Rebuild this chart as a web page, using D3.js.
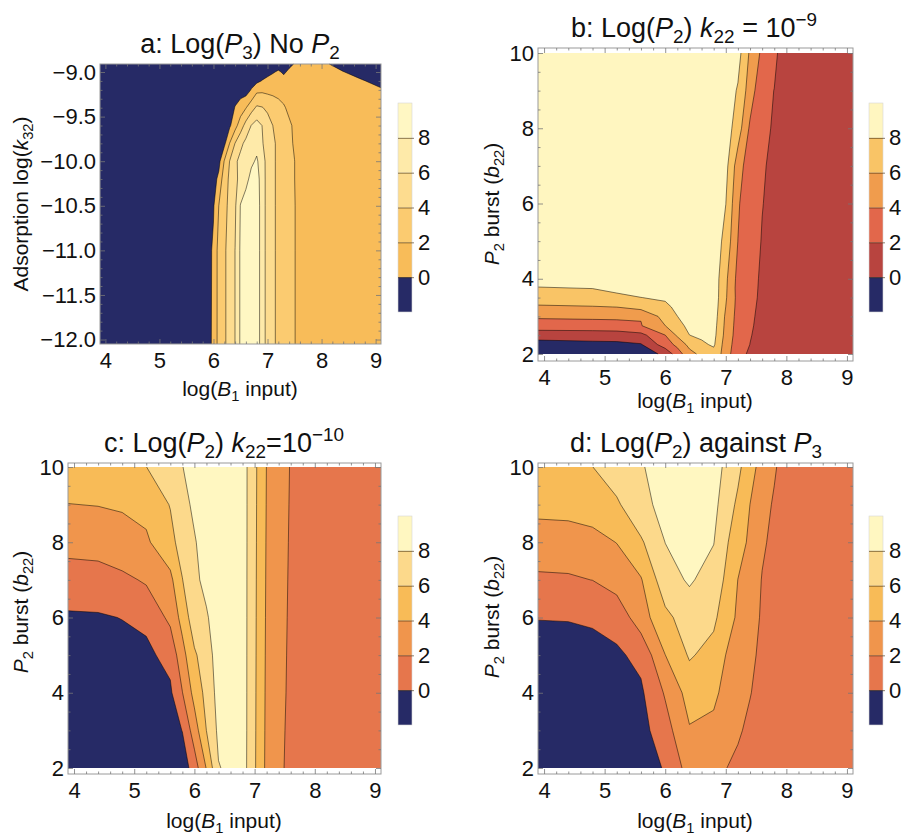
<!DOCTYPE html>
<html>
<head>
<meta charset="utf-8">
<script src="https://cdn.jsdelivr.net/npm/d3@7"></script>
<style>
  body { margin: 0; background: #fff; }
</style>
</head>
<body>
<div id="chart"></div>
<script>
const FONT = '"Liberation Sans", Arial, sans-serif';

// contour levels and tick labels
const levels = [0, 2, 4, 6, 8];
const legendTicks = [0, 2, 4, 6, 8];
const xTicks = [4, 5, 6, 7, 8, 9];
const aYTicks = [-12, -11.5, -11, -10.5, -10, -9.5, -9];
const bYTicks = [2, 4, 6, 8, 10];

// band colours: below 0, 0-2, 2-4, 4-6, 6-8, above 8
const navy = '#262a66';
const aColors = [navy, '#f8bc59', '#fbcb70', '#fddc8f', '#feeaa9', '#fff7c3'];
const bColors = [navy, '#b8443f', '#e2674b', '#f09c4d', '#f9c466', '#fff6c0'];
const cColors = [navy, '#e6764c', '#f0954c', '#f8bb57', '#fcd98b', '#fff7c1'];

// panel a: log(B1) nodes, log(k32) nodes, values row by row (bottom row first)
const aX = [3.9, 5.9, 6.0, 6.1, 6.2, 6.3, 6.4, 6.5, 6.6, 6.7, 6.8, 6.9, 7.0, 7.1, 7.2, 7.3, 7.4, 7.5, 7.6, 7.8, 8.1, 8.4, 8.7, 9.1];
const aY = [-12.05, -11.0, -10.5, -10.2, -10.0, -9.8, -9.6, -9.4, -9.2, -9.1, -9.0, -8.91];
const aZ = [
  [-1, -0.6, 0.4, 2.8, 3.6, 5.0, 6.02, 8.3, 8.8, 9.0, 8.8, 7.3, 5.0, 4.4, 3.5, 3.0, 2.6, 2.1, 1.2, 1.0, 1.0, 1.0, 1.0, 1.0],
  [-1, -0.7, 0.35, 2.8, 3.6, 5.0, 6.02, 8.3, 8.8, 9.0, 8.8, 7.3, 5.0, 4.4, 3.5, 3.0, 2.6, 2.1, 1.2, 1.0, 1.0, 1.0, 1.0, 1.0],
  [-1, -1, -0.2, 2.05, 3.3, 4.6, 5.7, 8.1, 8.8, 9.0, 8.8, 7.3, 5.0, 4.4, 3.5, 3.0, 2.6, 2.1, 1.2, 1.0, 1.0, 1.0, 1.0, 1.0],
  [-1, -1, -0.8, 0.5, 3.2, 4.3, 5.5, 6.6, 7.5, 8.5, 8.6, 7.3, 5.0, 4.4, 3.5, 3.0, 2.6, 2.02, 1.2, 1.0, 1.0, 1.0, 1.0, 1.0],
  [-1, -1, -1, -0.6, 2.1, 4.05, 5.6, 6.6, 7.2, 7.7, 8.2, 7.2, 5.0, 4.4, 3.5, 3.0, 2.6, 2.02, 1.2, 1.0, 1.0, 1.0, 1.0, 1.0],
  [-1, -1, -1, -1, -0.5, 2.05, 4.05, 5.5, 6.5, 7.1, 7.5, 6.2, 5.0, 4.4, 3.5, 3.0, 2.4, 1.8, 1.2, 1.0, 1.0, 1.0, 1.0, 1.0],
  [-1, -1, -1, -1, -1, -0.3, 1.3, 3.0, 4.7, 6.05, 6.8, 5.98, 4.9, 3.98, 3.3, 2.8, 2.3, 1.7, 1.2, 1.0, 1.0, 1.0, 1.0, 1.0],
  [-1, -1, -1, -1, -1, -1, 0.1, 1.0, 1.9, 3.2, 4.3, 4.1, 3.6, 3.2, 2.7, 2.2, 1.6, 1.3, 1.1, 1.0, 1.0, 1.0, 1.0, 1.0],
  [-1, -1, -1, -1, -1, -1, -1, -1, -1, 0.1, 1.5, 1.6, 1.5, 1.4, 1.3, 1.2, 1.1, 1.0, 1.0, 1.0, 1.0, 1.0, 0.8, 0.15],
  [-1, -1, -1, -1, -1, -1, -1, -1, -1, -0.8, -0.5, 0.1, 0.8, 1.0, 1.0, 0.7, 1.0, 1.0, 1.0, 1.0, 1.0, 0.9, 0.2, -0.5],
  [-1, -1, -1, -1, -1, -1, -1, -1, -1, -1, -1, -1, -0.9, -0.2, 0.3, -0.3, 0.4, 0.8, 0.9, 0.9, 0.7, 0.05, -0.5, -1],
  [-1, -1, -1, -1, -1, -1, -1, -1, -1, -1, -1, -1, -1, -1, -1, -1, -0.5, 0.1, 0.5, 0.6, 0.1, -0.6, -1, -1]
];

// panel b
const bX = [3.9, 4.8, 5.2, 5.6, 6.0, 6.2, 6.4, 6.6, 6.8, 7.0, 7.2, 7.4, 7.6, 7.8, 8.0, 9.1];
const bY = [2, 2.25, 2.5, 2.75, 3, 3.25, 3.5, 3.75, 4, 5, 6, 7, 8, 9, 10];
const bZ = [
  [-1.5, -1.5, -1.4, -1.2, 0.5, 3.0, 5.3, 6.5, 7.2, 5.2, 2.2, 1.91, 1.5, 1.3, 1.2, 1.2],
  [-0.8, -0.7, -0.6, -0.15, 3.0, 4.5, 6.6, 7.6, 8.3, 5.01, 3.0, 1.98, 1.55, 1.35, 1.2, 1.2],
  [0.87, 1.24, 1.275, 1.4, 3.98, 6.3, 7.98, 8.4, 8.6, 5.35, 3.1, 2.1, 1.43, 1.3, 1.2, 1.2],
  [3.04, 2.82, 2.92, 3.9, 5.98, 7.2, 8.6, 8.8, 8.8, 5.51, 3.19, 2.2, 1.53, 1.35, 1.2, 1.2],
  [4.3, 4.55, 4.61, 4.11, 6.8, 7.98, 8.9, 9.0, 9.0, 5.67, 3.28, 2.3, 1.55, 1.4, 1.2, 1.2],
  [5.72, 5.9, 6.02, 6.74, 7.5, 8.5, 9.1, 9.1, 9.1, 5.98, 3.34, 2.4, 1.6, 1.4, 1.2, 1.2],
  [7.12, 7.15, 7.3, 7.98, 8.33, 8.8, 9.2, 9.2, 9.2, 6.2, 3.4, 2.45, 1.7, 1.45, 1.2, 1.2],
  [7.9, 8.04, 8.76, 8.9, 8.8, 9.0, 9.2, 9.2, 9.2, 6.3, 3.3, 2.5, 1.73, 1.45, 1.2, 1.2],
  [8.73, 8.6, 9.0, 9.1, 9.0, 9.1, 9.2, 9.2, 9.2, 6.4, 3.4, 2.55, 1.76, 1.5, 1.2, 1.2],
  [9.2, 9.2, 9.2, 9.3, 9.2, 9.3, 9.3, 9.3, 9.3, 7.3, 3.98, 2.8, 1.91, 1.5, 1.2, 1.2],
  [9.3, 9.3, 9.3, 9.3, 9.3, 9.3, 9.3, 9.3, 9.3, 8.02, 4.3, 2.3, 2.05, 1.55, 1.2, 1.2],
  [9.3, 9.3, 9.3, 9.3, 9.3, 9.3, 9.3, 9.3, 9.3, 8.6, 5.0, 2.78, 2.2, 1.6, 1.2, 1.2],
  [9.3, 9.3, 9.3, 9.3, 9.3, 9.3, 9.3, 9.3, 9.3, 9.0, 7.0, 3.67, 2.6, 1.75, 1.2, 1.2],
  [9.3, 9.3, 9.3, 9.3, 9.3, 9.3, 9.3, 9.3, 9.3, 9.2, 7.8, 5.03, 2.45, 1.98, 1.2, 1.2],
  [9.3, 9.3, 9.3, 9.3, 9.3, 9.3, 9.3, 9.3, 9.3, 9.3, 8.77, 5.69, 3.58, 2.3, 1.2, 1.2]
];

// panel c
const cX = [3.9, 4.4, 4.8, 5.2, 5.6, 5.8, 6.0, 6.2, 6.4, 6.8, 7.2, 7.6, 8.0, 9.1];
const cY = [2, 3, 4, 5, 6, 7, 8, 9, 10];
const cZ = [
  [-2.5, -2.2, -2.5, -2.2, -1.6, -1.2, 1.0, 4.1, 7.9, 8.9, 3.55, 1.41, 1.5, 1.5],
  [-2, -1.8, -2.2, -1.8, -1.0, 0.05, 3.0, 6.02, 8.4, 8.93, 3.6, 1.5, 1.5, 1.5],
  [-1.5, -1.4, -1.8, -1.2, -0.3, 1.95, 4.67, 6.6, 8.7, 8.93, 3.65, 1.6, 1.5, 1.5],
  [-1, -0.9, -0.7, -0.4, 0.58, 3.3, 5.7, 7.1, 8.9, 8.93, 3.7, 1.65, 1.5, 1.5],
  [-0.26, -0.2, 0.05, 0.4, 2.47, 4.7, 7.2, 7.8, 9.0, 8.93, 3.75, 1.7, 1.5, 1.5],
  [1.2, 1.3, 1.5, 2.26, 3.5, 5.95, 7.6, 8.5, 9.1, 8.93, 3.8, 1.75, 1.5, 1.5],
  [2.6, 2.7, 3.58, 3.7, 5.42, 6.8, 7.85, 8.8, 9.2, 8.93, 3.85, 1.8, 1.5, 1.5],
  [3.96, 4.06, 4.11, 4.58, 6.09, 7.4, 8.35, 9.0, 9.2, 8.93, 3.9, 1.85, 1.5, 1.5],
  [5.3, 5.4, 5.3, 5.98, 7.3, 7.95, 8.8, 9.1, 9.2, 8.93, 3.95, 1.9, 1.5, 1.5]
];

// panel d
const dX = [3.9, 4.4, 4.8, 5.2, 5.6, 6.0, 6.4, 6.8, 7.0, 7.2, 7.4, 7.6, 7.8, 8.0, 9.1];
const dY = [2, 3, 4, 5, 6, 7, 8, 9, 10];
const dZ = [
  [-2.5, -2.2, -2.3, -2, -1.2, 0.2, 2.8, 2.9, 2.05, 1.5, 1.0, 0.8, 0.8, 1.0, 1.0],
  [-2, -1.8, -1.8, -1.5, -0.7, 1.2, 3.85, 3.5, 2.7, 2.3, 1.5, 1.0, 0.9, 1.0, 1.0],
  [-1.5, -1.3, -1.2, -0.9, -0.3, 2.2, 4.79, 4.43, 3.4, 2.9, 2.1, 1.2, 1.0, 1.0, 1.0],
  [-0.8, -0.7, -0.6, -0.3, 0.49, 3.98, 6.21, 5.3, 3.98, 3.3, 2.5, 1.5, 1.1, 1.0, 1.0],
  [0.06, 0.087, 0.245, 0.73, 3.09, 5.5, 7.0, 6.41, 4.9, 3.7, 2.9, 1.75, 1.2, 1.0, 1.0],
  [1.6, 1.8, 2.02, 2.85, 3.85, 7.22, 8.22, 7.2, 5.7, 3.98, 3.3, 1.9, 1.35, 1.0, 1.0],
  [3.42, 2.98, 3.4, 4.04, 5.73, 8.02, 8.8, 8.06, 6.3, 4.8, 3.65, 2.3, 1.5, 1.0, 1.0],
  [4.36, 4.77, 4.9, 5.7, 7.53, 8.5, 9.1, 8.5, 7.1, 5.6, 3.99, 2.8, 1.75, 1.0, 1.0],
  [5.2, 5.3, 5.98, 7.13, 7.85, 8.8, 9.3, 8.7, 7.7, 6.5, 4.7, 3.3, 2.25, 1.0, 1.0]
];

// text pieces
const xLabel = [{t: 'log('}, {t: 'B', i: 1}, {t: '1', sub: 1}, {t: ' input)'}];
const burstLabel = [{t: 'P', i: 1}, {t: '2', sub: 1}, {t: ' burst ('}, {t: 'b', i: 1}, {t: '22', sub: 1}, {t: ')'}];

const svg = d3.select('#chart')
    .append('svg')
    .attr('width', 906)
    .attr('height', 835)
    .style('font-family', FONT);

svg.append('rect').attr('width', 906).attr('height', 835).attr('fill', '#fff');

// write text with italics / sub / superscripts
function addRich(text, parts, fs) {
    let shift = 0;
    parts.forEach(p => {
        const target = p.sub ? 0.24 * fs : p.sup ? -0.42 * fs : 0;
        const ts = text.append('tspan').text(p.t).attr('dy', target - shift);
        shift = target;
        if (p.sub || p.sup) ts.attr('font-size', fs * 0.7);
        if (p.i) ts.attr('font-style', 'italic');
    });
}

// map a contour grid coordinate onto the (non uniform) node positions
function interp(nodes, c) {
    const n = nodes.length;
    const u = Math.max(0, Math.min(n - 1, c - 0.5));
    const i = Math.min(n - 2, Math.floor(u));
    return nodes[i] + (nodes[i + 1] - nodes[i]) * (u - i);
}

const fmt = q => q[0].toFixed(2) + ',' + q[1].toFixed(2);

function styleAxis(sel, fs) {
    sel.select('.domain').remove();
    sel.attr('font-family', FONT).attr('font-size', fs);
    sel.selectAll('.tick line').attr('stroke', '#777').attr('stroke-width', 0.8);
    sel.selectAll('.tick text').attr('fill', '#111');
}

function drawPanel(p) {
    const g = svg.append('g');
    const nx = p.xs.length, ny = p.ys.length;
    const x = d3.scaleLinear().domain([p.xs[0], p.xs[nx - 1]]).range(p.xr);
    const y = d3.scaleLinear().domain(p.yd).range(p.yr);
    const [fl, ft, fr, fb] = p.frame;

    const x0 = x(p.xs[0]), x1 = x(p.xs[nx - 1]);
    const y0 = y(p.ys[0]), y1 = y(p.ys[ny - 1]);
    const pt = c => [x(interp(p.xs, c[0])), y(interp(p.ys, c[1]))];
    const e = 0.01;
    const onEdge = (a, b) =>
        (Math.abs(a[0] - x0) < e && Math.abs(b[0] - x0) < e) ||
        (Math.abs(a[0] - x1) < e && Math.abs(b[0] - x1) < e) ||
        (Math.abs(a[1] - y0) < e && Math.abs(b[1] - y0) < e) ||
        (Math.abs(a[1] - y1) < e && Math.abs(b[1] - y1) < e);

    const values = p.zs.flat();
    const gen = d3.contours().size([nx, ny]);

    g.append('rect')
        .attr('x', x0).attr('y', y1)
        .attr('width', x1 - x0).attr('height', y0 - y1)
        .attr('fill', p.colors[0]);

    let lineD = '';
    levels.forEach((t, k) => {
        const mp = gen.contour(values, t);
        let d = '';
        mp.coordinates.forEach(poly => poly.forEach(ring => {
            const pts = ring.map(pt);
            d += 'M' + pts.map(fmt).join('L') + 'Z';
            let down = false;
            for (let i = 1; i < pts.length; i++) {
                const a = pts[i - 1], b = pts[i];
                if (onEdge(a, b)) { down = false; continue; }
                if (!down) lineD += 'M' + fmt(a);
                lineD += 'L' + fmt(b);
                down = true;
            }
        }));
        g.append('path')
            .attr('d', d)
            .attr('fill', p.colors[k + 1])
            .attr('fill-rule', 'evenodd');
    });

    g.append('path')
        .attr('d', lineD)
        .attr('fill', 'none')
        .attr('stroke', 'rgba(0,0,0,0.55)')
        .attr('stroke-width', 0.9)
        .attr('stroke-linejoin', 'round');

    // frame
    g.append('rect')
        .attr('x', fl).attr('y', ft)
        .attr('width', fr - fl).attr('height', fb - ft)
        .attr('fill', 'none')
        .attr('stroke', '#9a9a9a')
        .attr('stroke-width', 1);

    // ticks on all four sides, inward
    const xMinor = d3.range(4, 9.11, 0.2).filter(v => Math.abs(v - Math.round(v)) > 0.01);
    const yMinor = d3.range(p.yMinor[0], p.yMinor[1] + 1e-6, p.yMinor[2])
        .filter(v => !p.yTicks.some(t => Math.abs(t - v) < 1e-6));

    const bottom = g.append('g').attr('transform', `translate(0,${fb})`)
        .call(d3.axisBottom(x).tickValues(xTicks).tickSize(-5).tickPadding(8).tickFormat(d3.format('d')));
    styleAxis(bottom, 22);
    const left = g.append('g').attr('transform', `translate(${fl},0)`)
        .call(d3.axisLeft(y).tickValues(p.yTicks).tickSize(-5).tickPadding(4).tickFormat(d3.format(p.yFormat)));
    styleAxis(left, 22);
    [
        [d3.axisTop(x).tickValues(xTicks).tickSize(-5), `translate(0,${ft})`],
        [d3.axisRight(y).tickValues(p.yTicks).tickSize(-5), `translate(${fr},0)`],
        [d3.axisBottom(x).tickValues(xMinor).tickSize(-2.5), `translate(0,${fb})`],
        [d3.axisTop(x).tickValues(xMinor).tickSize(-2.5), `translate(0,${ft})`],
        [d3.axisLeft(y).tickValues(yMinor).tickSize(-2.5), `translate(${fl},0)`],
        [d3.axisRight(y).tickValues(yMinor).tickSize(-2.5), `translate(${fr},0)`]
    ].forEach(([ax, tr]) => {
        const s = g.append('g').attr('transform', tr).call(ax.tickFormat(''));
        styleAxis(s, 10);
    });

    // title and axis labels
    addRich(g.append('text').attr('x', p.title[0]).attr('y', p.title[1])
        .attr('text-anchor', 'middle').attr('font-size', 27).attr('fill', '#111'), p.titleParts, 27);
    addRich(g.append('text').attr('x', p.xlab[0]).attr('y', p.xlab[1])
        .attr('text-anchor', 'middle').attr('font-size', 21).attr('fill', '#111'), xLabel, 21);
    addRich(g.append('text')
        .attr('transform', `translate(${p.ylab[0]},${p.ylab[1]}) rotate(-90)`)
        .attr('text-anchor', 'middle').attr('font-size', 21).attr('fill', '#111'), p.yParts, 21);

    // legend bar
    const [lx, lt, lb] = p.legend;
    const ly = d3.scaleLinear().domain([-2, 10]).range([lb, lt]);
    const edges = [-2, 0, 2, 4, 6, 8, 10];
    const lg = g.append('g');
    p.colors.forEach((c, k) => {
        lg.append('rect')
            .attr('x', lx).attr('y', ly(edges[k + 1]))
            .attr('width', 14).attr('height', ly(edges[k]) - ly(edges[k + 1]))
            .attr('fill', c);
    });
    lg.append('rect')
        .attr('x', lx).attr('y', lt).attr('width', 14).attr('height', lb - lt)
        .attr('fill', 'none').attr('stroke', '#d6d6d6').attr('stroke-width', 0.6);
    const la = lg.append('g').attr('transform', `translate(${lx},0)`)
        .call(d3.axisRight(ly).tickValues(legendTicks).tickSize(16).tickPadding(4).tickFormat(d3.format('d')));
    styleAxis(la, 22);
    la.selectAll('.tick line').attr('stroke', 'rgba(60,40,10,0.6)').attr('stroke-width', 1);
}

drawPanel({
    xs: aX, ys: aY, zs: aZ, colors: aColors,
    xr: [100, 381], yd: [-12.05, -8.91], yr: [344, 64],
    frame: [100, 64, 381, 344],
    yTicks: aYTicks, yFormat: '.1f', yMinor: [-12, -9, 0.1],
    title: [240, 53],
    titleParts: [{t: 'a: Log('}, {t: 'P', i: 1}, {t: '3', sub: 1}, {t: ') No '}, {t: 'P', i: 1}, {t: '2', sub: 1}],
    xlab: [240, 396], ylab: [28, 204],
    yParts: [{t: 'Adsorption log('}, {t: 'k', i: 1}, {t: '32', sub: 1}, {t: ')'}],
    legend: [398, 103, 312]
});

drawPanel({
    xs: bX, ys: bY, zs: bZ, colors: bColors,
    xr: [538, 853], yd: [2, 10], yr: [354, 53],
    frame: [538, 48, 853, 361],
    yTicks: bYTicks, yFormat: 'd', yMinor: [2, 10, 0.5],
    title: [694, 37],
    titleParts: [{t: 'b: Log('}, {t: 'P', i: 1}, {t: '2', sub: 1}, {t: ') '}, {t: 'k', i: 1}, {t: '22', sub: 1}, {t: ' = 10'}, {t: '\u22129', sup: 1}],
    xlab: [695, 408], ylab: [499, 204],
    yParts: burstLabel,
    legend: [869, 103, 312]
});

drawPanel({
    xs: cX, ys: cY, zs: cZ, colors: cColors,
    xr: [68, 381], yd: [2, 10], yr: [768, 467],
    frame: [68, 463, 381, 774],
    yTicks: bYTicks, yFormat: 'd', yMinor: [2, 10, 0.5],
    title: [224, 452],
    titleParts: [{t: 'c: Log('}, {t: 'P', i: 1}, {t: '2', sub: 1}, {t: ') '}, {t: 'k', i: 1}, {t: '22', sub: 1}, {t: '=10'}, {t: '\u221210', sup: 1}],
    xlab: [224, 828], ylab: [28, 612],
    yParts: burstLabel,
    legend: [398, 516, 725]
});

drawPanel({
    xs: dX, ys: dY, zs: dZ, colors: cColors,
    xr: [538, 853], yd: [2, 10], yr: [768, 467],
    frame: [538, 463, 853, 774],
    yTicks: bYTicks, yFormat: 'd', yMinor: [2, 10, 0.5],
    title: [696, 452],
    titleParts: [{t: 'd: Log('}, {t: 'P', i: 1}, {t: '2', sub: 1}, {t: ') against '}, {t: 'P', i: 1}, {t: '3', sub: 1}],
    xlab: [695, 828], ylab: [499, 617],
    yParts: burstLabel,
    legend: [869, 516, 725]
});
</script>
</body>
</html>
